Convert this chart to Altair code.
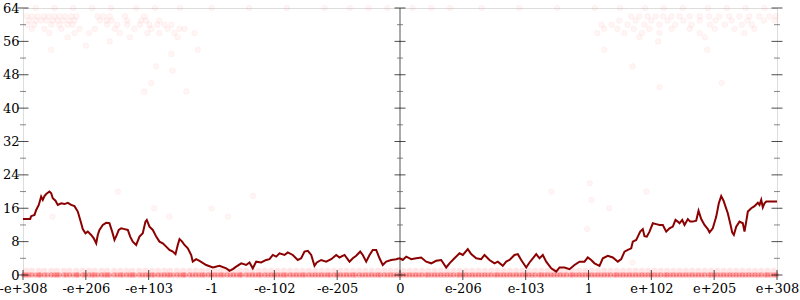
import altair as alt
import pandas as pd

# ---- axis definitions ----
x_ticks = [-6, -5, -4, -3, -2, -1, 0, 1, 2, 3, 4, 5, 6]
x_labels = ["-e+308", "-e+206", "-e+103", "-1", "-e-102", "-e-205", "0",
            "e-206", "e-103", "1", "e+102", "e+205", "e+308"]
y_major = [0, 8, 16, 24, 32, 40, 48, 56, 64]
y_minor = [4, 12, 20, 28, 36, 44, 52, 60]
center_x = [0]

# ---- dark red line ----
line_x = [-6.0, -5.886, -5.870, -5.817, -5.790, -5.749, -5.711, -5.685, -5.658, -5.631,
          -5.579, -5.551, -5.526, -5.483, -5.446, -5.392, -5.340, -5.287, -5.233, -5.181,
          -5.128, -5.074, -5.049, -5.006, -4.969, -4.915, -4.874, -4.835, -4.810, -4.783,
          -4.730, -4.676, -4.624, -4.581, -4.544, -4.507, -4.476, -4.437, -4.385, -4.332,
          -4.294, -4.253, -4.199, -4.146, -4.094, -4.051, -4.030, -3.987, -3.934, -3.880,
          -3.828, -3.775, -3.721, -3.669, -3.616, -3.573, -3.537, -3.509, -3.467, -3.430,
          -3.377, -3.323, -3.298, -3.244, -3.191, -3.084, -2.979, -2.873, -2.766, -2.714,
          -2.661, -2.607, -2.527, -2.448, -2.395, -2.343, -2.289, -2.209, -2.130, -2.077,
          -2.024, -1.970, -1.918, -1.838, -1.786, -1.706, -1.627, -1.573, -1.520, -1.467,
          -1.413, -1.361, -1.324, -1.254, -1.175, -1.095, -1.015, -0.963, -0.883, -0.804,
          -0.751, -0.697, -0.633, -0.592, -0.538, -0.485, -0.433, -0.379, -0.326, -0.274,
          -0.220, -0.140, -0.060, -0.008, 0.045, 0.099, 0.124, 0.178, 0.258, 0.337,
          0.417, 0.497, 0.576, 0.656, 0.735, 0.788, 0.867, 0.947, 1.000, 1.079,
          1.133, 1.213, 1.292, 1.345, 1.424, 1.504, 1.557, 1.636, 1.690, 1.743,
          1.822, 1.875, 1.929, 2.009, 2.061, 2.114, 2.168, 2.220, 2.273, 2.327,
          2.407, 2.486, 2.539, 2.618, 2.698, 2.777, 2.857, 2.936, 2.989, 3.043,
          3.096, 3.175, 3.228, 3.307, 3.387, 3.467, 3.521, 3.573, 3.626, 3.680,
          3.705, 3.759, 3.785, 3.823, 3.864, 3.891, 3.928, 3.971, 4.024, 4.078,
          4.130, 4.183, 4.237, 4.289, 4.342, 4.385, 4.421, 4.448, 4.492, 4.528,
          4.581, 4.619, 4.660, 4.714, 4.751, 4.794, 4.846, 4.899, 4.926, 4.978,
          5.033, 5.074, 5.112, 5.149, 5.181, 5.217, 5.255, 5.287, 5.313, 5.351,
          5.403, 5.456, 5.483, 5.510, 5.536, 5.590, 5.642, 5.695, 5.722, 5.749,
          5.774, 5.801, 5.829, 6.0]
line_y = [13.4, 13.4, 14.1, 14.4, 15.6, 16.8, 18.8, 18.0, 18.9, 19.4,
          20.0, 19.6, 18.4, 17.8, 16.8, 17.2, 17.0, 17.3, 16.8, 16.5,
          15.2, 12.4, 11.0, 10.0, 10.4, 9.6, 8.8, 7.6, 9.6, 10.8,
          12.0, 12.5, 12.4, 10.4, 8.4, 9.6, 10.8, 11.2, 11.0, 10.8,
          9.2, 8.0, 7.2, 9.2, 10.0, 12.8, 13.2, 11.6, 10.8, 9.2,
          8.0, 7.6, 6.8, 6.0, 5.6, 5.0, 7.2, 8.6, 8.0, 7.2,
          6.4, 4.8, 3.2, 3.8, 3.4, 2.4, 1.8, 2.2, 1.6, 1.0,
          1.4, 2.0, 2.8, 2.4, 3.0, 1.6, 3.2, 3.0, 3.6, 3.8,
          4.8, 4.4, 5.2, 4.8, 5.4, 4.8, 3.6, 4.0, 5.6, 5.8,
          4.8, 2.2, 3.0, 3.6, 3.2, 3.8, 4.8, 4.2, 4.8, 3.2,
          4.0, 4.6, 5.6, 4.8, 3.2, 4.8, 6.0, 6.0, 4.0, 2.4,
          3.2, 3.6, 3.8, 4.0, 3.6, 4.4, 4.2, 3.8, 4.0, 4.2,
          3.2, 2.8, 3.4, 3.6, 1.8, 2.8, 4.0, 5.2, 4.8, 6.2,
          5.0, 4.0, 3.8, 4.8, 3.6, 2.8, 3.2, 2.2, 3.2, 3.6,
          4.8, 5.0, 3.6, 1.8, 3.0, 4.0, 5.0, 4.0, 4.8, 3.2,
          1.6, 0.8, 1.8, 1.8, 1.4, 2.4, 3.2, 3.2, 4.2, 3.6,
          2.8, 2.2, 4.0, 4.6, 4.2, 3.2, 3.8, 5.6, 6.0, 6.4,
          8.0, 8.4, 9.2, 10.4, 11.0, 9.3, 9.2, 10.4, 12.4, 12.2,
          12.0, 12.0, 10.4, 11.2, 11.6, 13.2, 12.8, 12.4, 13.2, 12.0,
          13.4, 12.8, 12.8, 13.0, 15.4, 13.4, 12.0, 11.0, 10.2, 11.2,
          14.0, 17.2, 18.9, 17.8, 16.4, 14.8, 12.4, 10.2, 9.6, 11.6,
          12.8, 12.4, 10.4, 12.8, 15.2, 16.0, 16.5, 17.3, 16.8, 18.0,
          16.2, 17.2, 17.6, 17.6]

# ---- faint points: dense rows at 0 and 1 ----
row_a_x = [-5.99, -5.91, -5.80, -5.72, -5.61, -5.50, -5.42, -5.31, -5.20, -5.12, -5.01,
           -4.90, -4.81, -4.70, -4.62, -4.50, -4.41, -4.30, -4.22, -4.10, -4.00, -3.91,
           -3.80, -3.70, -3.61, -3.50, -3.42, -3.30, -3.20, -3.11, -3.00, -2.90, -2.81,
           -2.70, -2.60, -2.52, -2.40, -2.30, -2.21, -2.10, -2.00, -1.90, -1.81, -1.70,
           -1.60, -1.51, -1.40, -1.30, -1.20, -1.11, -1.00, -0.90, -0.80, -0.71, -0.60,
           -0.50, -0.40, -0.31, -0.20, -0.10, 0.00, 0.10, 0.20, 0.30, 0.41, 0.50, 0.60,
           0.70, 0.80, 0.91, 1.00, 1.10, 1.20, 1.30, 1.40, 1.51, 1.60, 1.70, 1.80, 1.90,
           2.00, 2.10, 2.21, 2.30, 2.40, 2.50, 2.60, 2.71, 2.80, 2.90, 3.00, 3.10, 3.20,
           3.30, 3.41, 3.50, 3.60, 3.70, 3.80, 3.90, 4.00, 4.10, 4.21, 4.30, 4.40, 4.50,
           4.60, 4.70, 4.80, 4.91, 5.00, 5.10, 5.20, 5.30, 5.40, 5.50, 5.60, 5.70, 5.81,
           5.90, 5.99]
row_b_x = [-5.95, -5.86, -5.75, -5.66, -5.55, -5.46, -5.35, -5.26, -5.15, -5.05, -4.95,
           -4.86, -4.75, -4.66, -4.55, -4.45, -4.35, -4.26, -4.15, -4.05, -3.95, -3.85,
           -3.75, -3.66, -3.55, -3.45, -3.35, -3.25, -3.15, -3.05, -2.95, -2.85, -2.75,
           -2.65, -2.55, -2.45, -2.35, -2.25, -2.15, -2.05, -1.95, -1.85, -1.75, -1.65,
           -1.55, -1.45, -1.35, -1.25, -1.15, -1.05, -0.95, -0.85, -0.75, -0.65, -0.55,
           -0.45, -0.35, -0.25, -0.15, -0.05, 0.05, 0.15, 0.25, 0.35, 0.45, 0.55, 0.65,
           0.75, 0.85, 0.95, 1.05, 1.15, 1.25, 1.35, 1.45, 1.55, 1.65, 1.75, 1.85, 1.95,
           2.05, 2.15, 2.25, 2.35, 2.45, 2.55, 2.65, 2.75, 2.85, 2.95, 3.05, 3.15, 3.25,
           3.35, 3.45, 3.55, 3.65, 3.75, 3.85, 3.95, 4.05, 4.15, 4.25, 4.35, 4.45, 4.55,
           4.65, 4.75, 4.85, 4.95, 5.05, 5.15, 5.25, 5.35, 5.45, 5.55, 5.65, 5.75, 5.85,
           5.95]

# ---- faint points: upper clusters and scattered ones ----
top_x = (
    [-5.94, -5.86, -5.77, -5.67, -5.59, -5.50, -5.42, -5.33, -5.23, -5.15, -4.81, -4.72, -4.62, -4.38, -4.07]
    + [-5.90, -5.80, -5.71, -5.63, -5.53, -5.45, -5.36, -5.26, -5.18, -4.78, -4.67, -4.59, -4.34, -4.12, -4.04, -3.83]
    + [-5.93, -5.82, -5.55, -5.42, -5.29, -5.21, -4.66, -4.50, -4.34, -4.14, -3.99, -3.86, -3.75, -3.64]
    + [-5.86, -5.66, -5.39, -5.10, -4.86, -4.54, -4.23, -3.96, -3.70, -3.51, -3.43]
    + [-5.58, -5.18, -4.95, -4.46, -4.02, -3.83, -3.59, -3.27, -5.29, -4.30, -3.54]
    + [-5.55, -5.00, -4.62, -3.64, -3.22, -3.88, -3.62, -3.96, -4.07, -3.40]
    + [3.68, 3.81, 3.94, 4.07, 4.19, 4.32, 4.45, 4.61, 4.77, 4.92, 5.08, 5.24, 5.40, 5.56, 5.72, 5.88, 5.98]
    + [3.49, 3.75, 4.00, 4.26, 4.51, 4.77, 5.02, 5.28, 5.53, 5.79, 5.96]
    + [3.21, 3.37, 3.62, 3.89, 4.13, 4.38, 4.64, 4.93, 5.17, 5.44, 5.60]
    + [3.25, 3.46, 3.72, 3.97, 4.32, 4.61, 5.01, 5.32, 5.64]
    + [3.14, 3.57, 3.85, 4.13, 4.77, 5.48, 3.81, 4.85]
    + [3.25, 3.70, 4.13, 5.12, 4.89, 4.11]
    + [-5.8, -5.5, -5.2, -4.9, -4.6, -4.2, -3.9, -3.5, -3.0, -2.4, -1.8, -1.2, -0.8, -0.5, -0.2,
       0.2, 0.5, 0.8, 1.3, 1.9, 2.5, 3.1, 3.5, 3.9, 4.2, 4.5, 4.9, 5.2, 5.5, 5.8]
    + [-4.49, -5.53, -3.91, -3.67, -3.00, -2.74, -2.34, 2.41, 3.02, 3.05, 2.98, 3.92, 3.33, 3.70]
)
top_y = (
    [62] * 15 + [61] * 16 + [60] * 14 + [59] * 11
    + [58, 58, 58, 58, 58, 58, 58, 58, 57, 57, 57]
    + [54, 55, 56, 53, 54, 50, 49, 46, 44, 44]
    + [62] * 17 + [61] * 11 + [60] * 11 + [59] * 9
    + [58, 58, 58, 58, 58, 58, 57, 57]
    + [54, 50, 45, 46, 54, 56]
    + [64] * 30
    + [20, 14, 16, 14, 16, 14, 19, 20, 22, 18, 11, 20, 16, 3]
)

# ---- build tables (same column names x / y everywhere) ----
line_df = pd.DataFrame({"x": line_x, "y": line_y})
band0_x = row_a_x + row_b_x
band0_df = pd.DataFrame({"x": band0_x, "y": [0] * len(band0_x)})
band1_df = pd.DataFrame({"x": row_b_x, "y": [1] * len(row_b_x)})
top_df = pd.DataFrame({"x": top_x, "y": top_y})
xt_df = pd.DataFrame({"x": x_ticks})
ymaj_df = pd.DataFrame({"y": y_major})
ymin_df = pd.DataFrame({"y": y_minor})
cx_df = pd.DataFrame({"x": center_x})

FONT = "DejaVu Serif"
label_expr = "[" + ",".join("'%s'" % s for s in x_labels) + "][datum.value + 6]"

xs = alt.Scale(domain=[-6, 6], nice=False, zero=False)
ys = alt.Scale(domain=[0, 64], nice=False, zero=False)

x_axis = alt.Axis(values=x_ticks, labelExpr=label_expr, ticks=False, domain=False,
                  grid=False, title=None, labelFont=FONT, labelFontSize=13,
                  labelColor="black", labelPadding=7, labelFlush=False,
                  labelOverlap=False, labelBound=False)
y_axis = alt.Axis(values=y_major, ticks=False, domain=False, grid=False, title=None,
                  labelFont=FONT, labelFontSize=13, labelColor="black",
                  labelPadding=4, labelOverlap=False, labelBound=False)

X = alt.X("x:Q", scale=xs, axis=x_axis, title=None)
Y = alt.Y("y:Q", scale=ys, axis=y_axis, title=None)

def XD(v):
    return alt.XDatum(v, type="quantitative", scale=xs, axis=x_axis, title=None)

def YD(v):
    return alt.YDatum(v, type="quantitative", scale=ys, axis=y_axis, title=None)

band1 = alt.Chart(band1_df).mark_circle(
    size=38, color="#ff0000", opacity=0.1
).encode(x=X, y=Y)

band0 = alt.Chart(band0_df).mark_circle(
    size=28, color="#ff0000", opacity=0.3
).encode(x=X, y=Y)

topc = alt.Chart(top_df).mark_point(
    shape="circle", filled=True, size=32, fill="#ff0000", stroke="#ff0000",
    fillOpacity=0.04, strokeOpacity=0.04, strokeWidth=1
).encode(x=X, y=Y)

center = alt.Chart(cx_df).mark_rule(color="#aaaaaa", strokeWidth=2).encode(x=X)

def yticks(df, xpos, size, color):
    return alt.Chart(df).mark_tick(orient="horizontal", size=size, thickness=1,
                                   color=color).encode(y=Y, x=XD(xpos))

ticks = []
for xp in [-6, 0, 6]:
    ticks.append(yticks(ymaj_df, xp, 11, "black"))
    ticks.append(yticks(ymin_df, xp, 6, "#555555"))

xticks = alt.Chart(xt_df).mark_tick(orient="vertical", size=10, thickness=1,
                                    color="black").encode(x=X, y=YD(0))

line = alt.Chart(line_df).mark_line(color="#8b0000", strokeWidth=2).encode(x=X, y=Y)

chart = alt.layer(band1, band0, topc, center, *ticks, xticks, line).properties(
    width=754, height=267,
    padding={"left": 23, "top": 8, "right": 23, "bottom": 25},
    autosize="none",
).configure_view(stroke="#aaaaaa", strokeWidth=2).configure(background="white")

chart.save("out.html", embed_options={"renderer": "svg", "actions": False})
